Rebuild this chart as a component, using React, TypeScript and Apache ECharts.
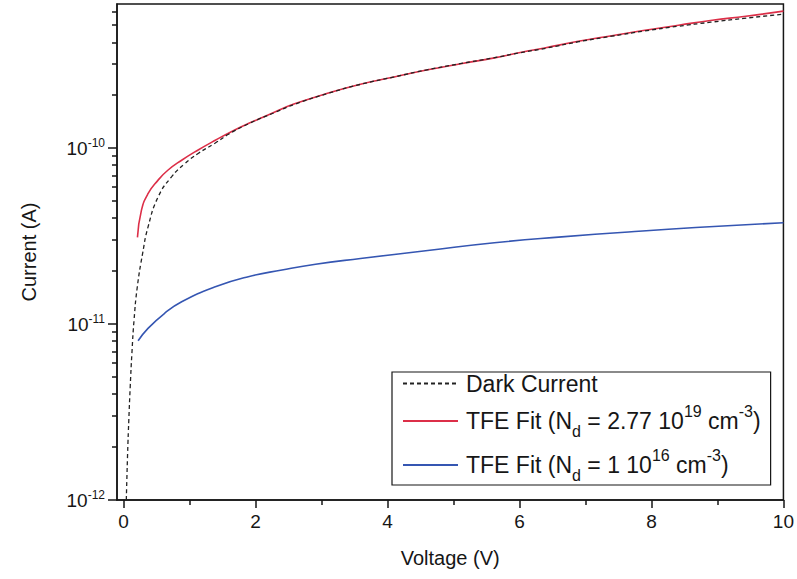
import React, { useEffect, useRef } from "react";
import * as echarts from "echarts";

// Dark current (dashed)
const darkV = [0.041, 0.061, 0.079, 0.1, 0.126, 0.158, 0.207, 0.289, 0.37, 0.522, 0.726, 0.93, 1.13, 1.39, 1.59, 1.9, 2.3, 2.6, 3.1, 3.6, 4.1, 4.6, 5.1, 5.6, 6.0, 6.4, 6.9, 7.4, 7.9, 8.4, 8.9, 9.4, 10];
const darkI = [1.0e-12, 1.85e-12, 2.85e-12, 4.38e-12, 6.84e-12, 1.05e-11, 1.62e-11, 2.53e-11, 3.56e-11, 5.27e-11, 6.87e-11, 8.18e-11, 9.33e-11, 1.07e-10, 1.2e-10, 1.38e-10, 1.6e-10, 1.78e-10, 2.05e-10, 2.31e-10, 2.54e-10, 2.79e-10, 3.02e-10, 3.26e-10, 3.48e-10, 3.7e-10, 4.03e-10, 4.33e-10, 4.64e-10, 4.93e-10, 5.2e-10, 5.47e-10, 5.78e-10];

// TFE fit, Nd = 2.77e19
const redV = [0.21, 0.27, 0.37, 0.52, 0.67, 0.88, 1.13, 1.39, 1.64, 1.89, 2.3, 2.58, 3.09, 3.59, 4.1, 4.61, 5.11, 5.62, 6.03, 6.38, 6.89, 7.4, 7.9, 8.41, 8.92, 9.43, 10];
const redI = [3.11e-11, 4.43e-11, 5.51e-11, 6.56e-11, 7.49e-11, 8.54e-11, 9.77e-11, 1.11e-10, 1.245e-10, 1.38e-10, 1.61e-10, 1.78e-10, 2.05e-10, 2.31e-10, 2.54e-10, 2.79e-10, 3.02e-10, 3.26e-10, 3.51e-10, 3.71e-10, 4.05e-10, 4.36e-10, 4.68e-10, 5.0e-10, 5.34e-10, 5.62e-10, 6.01e-10];

// TFE fit, Nd = 1e16
const blueV = [0.22, 0.37, 0.62, 0.88, 1.39, 1.89, 2.4, 2.91, 3.59, 4.61, 5.62, 6.64, 7.65, 8.67, 10];
const blueI = [8.04e-12, 9.46e-12, 1.15e-11, 1.34e-11, 1.63e-11, 1.86e-11, 2.03e-11, 2.19e-11, 2.36e-11, 2.62e-11, 2.9e-11, 3.13e-11, 3.34e-11, 3.54e-11, 3.77e-11];

const xMajorTicks = [0, 2, 4, 6, 8, 10];
const xMinorTicks = [1, 3, 5, 7, 9];
const yMajorTicks = [1e-12, 1e-11, 1e-10];
const yMinorTicks = [
  2e-12, 3e-12, 4e-12, 5e-12, 6e-12, 7e-12, 8e-12, 9e-12,
  2e-11, 3e-11, 4e-11, 5e-11, 6e-11, 7e-11, 8e-11, 9e-11,
  2e-10, 3e-10, 4e-10, 5e-10, 6e-10,
];

const seriesNames = ["Dark Current", "TFE Fit (Nd = 2.77 10^19 cm^-3)", "TFE Fit (Nd = 1 10^16 cm^-3)"];
const legendLabels = [
  "{a|Dark Current}",
  "{m|TFE Fit (N}{sub|d}{t| = 2.77 10}{sup|19}{t| cm}{sup|-3}{t|)}",
  "{m|TFE Fit (N}{sub|d}{t| = 1 10}{sup|16}{t| cm}{sup|-3}{t|)}",
];

const FONT = "'Liberation Sans', Arial, sans-serif";
const INK = "#161616";

function zip(a: number[], b: number[]) {
  return a.map((v, i) => [v, b[i]]);
}

export default function App() {
  const ref = useRef<HTMLDivElement | null>(null);
  useEffect(() => {
    document.body.style.margin = "0";
    if (!ref.current) return;
    const chart = echarts.init(ref.current, undefined, { renderer: "svg" });
    const xMin = -0.1;
    const xMax = 10;
    const yMin = 1e-12;
    const yMax = 6.6e-10;
    chart.setOption({
      animation: false,
      backgroundColor: "#ffffff",
      grid: {
        left: 117,
        right: 13,
        top: 4,
        bottom: 79,
        show: true,
        borderColor: INK,
        borderWidth: 1.5,
        backgroundColor: "transparent",
      },
      xAxis: [
        {
          type: "value",
          min: xMin,
          max: xMax,
          position: "bottom",
          axisLine: { show: true, onZero: false, lineStyle: { color: INK, width: 1.5 } },
          axisTick: { show: true, customValues: xMajorTicks, length: 8, inside: false, lineStyle: { color: INK, width: 1.5 } },
          axisLabel: { customValues: xMajorTicks, fontSize: 19, color: INK, fontFamily: FONT, margin: 12 },
          splitLine: { show: false },
          name: "Voltage (V)",
          nameLocation: "middle",
          nameGap: 48,
          nameTextStyle: { fontSize: 20, color: INK, fontFamily: FONT },
        },
        {
          type: "value",
          min: xMin,
          max: xMax,
          position: "bottom",
          axisLine: { show: false, onZero: false },
          axisTick: { show: true, customValues: xMinorTicks, length: 5, lineStyle: { color: INK, width: 1.5 } },
          axisLabel: { show: false },
          splitLine: { show: false },
        },
      ],
      yAxis: [
        {
          type: "log",
          logBase: 10,
          min: yMin,
          max: yMax,
          position: "left",
          axisLine: { show: true, onZero: false, lineStyle: { color: INK, width: 1.5 } },
          axisTick: { show: true, customValues: yMajorTicks, length: 9, lineStyle: { color: INK, width: 1.5 } },
          axisLabel: {
            customValues: yMajorTicks,
            margin: 12,
            color: INK,
            fontFamily: FONT,
            formatter: (v: number) => {
              const e = Math.round(Math.log10(v));
              return "{b|10}{s|" + e + "}";
            },
            rich: {
              b: { fontSize: 19, color: INK, fontFamily: FONT, lineHeight: 22 },
              s: { fontSize: 12, color: INK, fontFamily: FONT, lineHeight: 8, verticalAlign: "top" },
            },
          },
          splitLine: { show: false },
          name: "Current (A)",
          nameLocation: "middle",
          nameGap: 78,
          nameRotate: 90,
          nameTextStyle: { fontSize: 20, color: INK, fontFamily: FONT },
        },
        {
          type: "log",
          logBase: 10,
          min: yMin,
          max: yMax,
          position: "left",
          axisLine: { show: false, onZero: false },
          axisTick: { show: true, customValues: yMinorTicks, length: 5, lineStyle: { color: INK, width: 1.5 } },
          axisLabel: { show: false },
          splitLine: { show: false },
        },
      ],
      legend: {
        data: seriesNames,
        orient: "vertical",
        left: 392,
        top: 372,
        padding: [0, 10, 2, 10],
        itemGap: 8,
        itemWidth: 55,
        itemHeight: 14,
        borderColor: INK,
        borderWidth: 1.2,
        borderRadius: 0,
        backgroundColor: "#ffffff",
        itemStyle: { opacity: 0 },
        formatter: (name: string) => legendLabels[seriesNames.indexOf(name)],
        textStyle: {
          fontSize: 23,
          color: INK,
          fontFamily: FONT,
          rich: {
            a: { fontSize: 23, color: INK, fontFamily: FONT, lineHeight: 28, padding: [0, 0, 0, 3] },
            m: { fontSize: 23, color: INK, fontFamily: FONT, lineHeight: 26, verticalAlign: "top", padding: [6, 0, 0, 3] },
            t: { fontSize: 23, color: INK, fontFamily: FONT, lineHeight: 26, verticalAlign: "top", padding: [6, 0, 0, 0] },
            sup: { fontSize: 16, color: INK, fontFamily: FONT, lineHeight: 16, verticalAlign: "top" },
            sub: { fontSize: 16, color: INK, fontFamily: FONT, lineHeight: 36, verticalAlign: "bottom" },
          },
        },
      },
      series: [
        {
          name: seriesNames[0],
          type: "line",
          xAxisIndex: 0,
          yAxisIndex: 0,
          data: zip(darkV, darkI),
          symbol: "none",
          showSymbol: false,
          smooth: 0.5,
          lineStyle: { color: "#222222", width: 1.3, type: [4, 3] },
          itemStyle: { color: "#222222" },
          z: 3,
        },
        {
          name: seriesNames[1],
          type: "line",
          xAxisIndex: 0,
          yAxisIndex: 0,
          data: zip(redV, redI),
          symbol: "none",
          showSymbol: false,
          smooth: 0.5,
          lineStyle: { color: "#dc2f48", width: 1.6 },
          itemStyle: { color: "#dc2f48" },
          z: 2,
        },
        {
          name: seriesNames[2],
          type: "line",
          xAxisIndex: 0,
          yAxisIndex: 0,
          data: zip(blueV, blueI),
          symbol: "none",
          showSymbol: false,
          smooth: 0.5,
          lineStyle: { color: "#3556b2", width: 1.6 },
          itemStyle: { color: "#3556b2" },
          z: 2,
        },
      ],
    });
    return () => chart.dispose();
  }, []);
  return <div ref={ref} style={{ width: 797, height: 579 }} />;
}
